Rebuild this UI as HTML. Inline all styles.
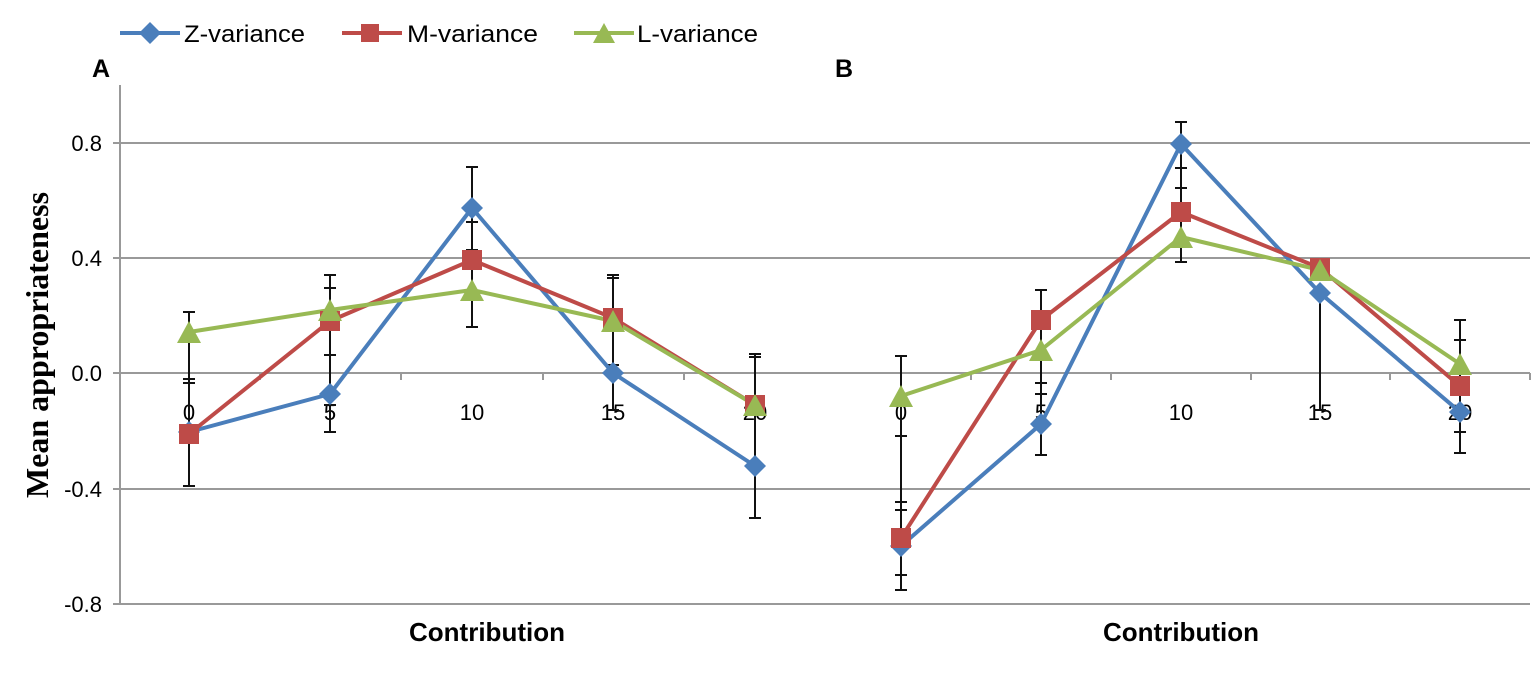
<!DOCTYPE html>
<html><head><meta charset="utf-8"><style>html,body{margin:0;padding:0;background:#fff}svg{display:block}</style></head>
<body>
<svg width="1535" height="679" viewBox="0 0 1535 679" xmlns="http://www.w3.org/2000/svg" font-family="Liberation Sans, sans-serif">
<!-- Legend -->
<g stroke-width="4">
<line x1="120" y1="33" x2="180" y2="33" stroke="#4a7ebb"/>
<polygon points="150,22 161,33 150,44 139,33" fill="#4a7ebb"/>
<line x1="342" y1="33" x2="402" y2="33" stroke="#be4b48"/>
<rect x="361" y="24" width="18" height="18" fill="#be4b48"/>
<line x1="574" y1="33" x2="634" y2="33" stroke="#98b954"/>
<polygon points="604,23 615,43 593,43" fill="#98b954"/>
</g>
<g font-size="24" fill="#000">
<text x="184" y="42" textLength="121" lengthAdjust="spacingAndGlyphs">Z-variance</text>
<text x="407" y="42" textLength="131" lengthAdjust="spacingAndGlyphs">M-variance</text>
<text x="637" y="42" textLength="121" lengthAdjust="spacingAndGlyphs">L-variance</text>
</g>
<text x="92" y="77" font-size="25" font-weight="bold">A</text>
<text x="835" y="77" font-size="25" font-weight="bold">B</text>
<text transform="translate(48,345) rotate(-90)" text-anchor="middle" font-family="Liberation Serif, serif" font-weight="bold" font-size="32">Mean appropriateness</text>
<!-- Panel A grid -->
<g stroke="#999" stroke-width="2">
<line x1="113" y1="143" x2="822" y2="143"/>
<line x1="113" y1="258" x2="822" y2="258"/>
<line x1="113" y1="373" x2="822" y2="373"/>
<line x1="113" y1="489" x2="822" y2="489"/>
<line x1="113" y1="604" x2="822" y2="604"/>
<line x1="120" y1="85" x2="120" y2="605"/>
<line x1="260" y1="373" x2="260" y2="380"/><line x1="401" y1="373" x2="401" y2="380"/><line x1="543" y1="373" x2="543" y2="380"/><line x1="684" y1="373" x2="684" y2="380"/>
</g>
<g font-size="22" text-anchor="end">
<text x="102" y="151">0.8</text><text x="102" y="266">0.4</text><text x="102" y="381">0.0</text><text x="102" y="497">-0.4</text><text x="102" y="612">-0.8</text>
</g>
<!-- Panel B grid -->
<g stroke="#999" stroke-width="2">
<line x1="780" y1="143" x2="808" y2="143"/><line x1="817" y1="143" x2="1530" y2="143"/>
<line x1="780" y1="258" x2="808" y2="258"/><line x1="817" y1="258" x2="1530" y2="258"/>
<line x1="780" y1="373" x2="808" y2="373"/><line x1="817" y1="373" x2="1530" y2="373"/>
<line x1="780" y1="489" x2="808" y2="489"/><line x1="817" y1="489" x2="1530" y2="489"/>
<line x1="780" y1="604" x2="808" y2="604"/><line x1="817" y1="604" x2="1530" y2="604"/>
<line x1="971" y1="373" x2="971" y2="380"/><line x1="1111" y1="373" x2="1111" y2="380"/><line x1="1251" y1="373" x2="1251" y2="380"/><line x1="1390" y1="373" x2="1390" y2="380"/><line x1="1530" y1="373" x2="1530" y2="380"/>
</g>
<g font-size="22" text-anchor="middle">
<text x="189" y="420">0</text><text x="330" y="420">5</text><text x="472" y="420">10</text><text x="613" y="420">15</text><text x="755" y="420">20</text>
<text x="901" y="420">0</text><text x="1041" y="420">5</text><text x="1181" y="420">10</text><text x="1320" y="420">15</text><text x="1460" y="420">20</text>
</g>
<g font-size="26" font-weight="bold" text-anchor="middle">
<text x="487" y="641">Contribution</text><text x="1181" y="641">Contribution</text>
</g>
<!-- Error bars -->
<g stroke="#111" stroke-width="2">
<line x1="189" y1="312" x2="189" y2="486"/><line x1="183" y1="312" x2="195" y2="312"/><line x1="183" y1="379" x2="195" y2="379"/><line x1="183" y1="383" x2="195" y2="383"/><line x1="183" y1="486" x2="195" y2="486"/>
<line x1="330" y1="275" x2="330" y2="432"/><line x1="324" y1="275" x2="336" y2="275"/><line x1="324" y1="288" x2="336" y2="288"/><line x1="324" y1="355" x2="336" y2="355"/><line x1="324" y1="405" x2="336" y2="405"/><line x1="324" y1="432" x2="336" y2="432"/>
<line x1="472" y1="167" x2="472" y2="327"/><line x1="466" y1="167" x2="478" y2="167"/><line x1="466" y1="222" x2="478" y2="222"/><line x1="466" y1="250" x2="478" y2="250"/><line x1="466" y1="327" x2="478" y2="327"/>
<line x1="613" y1="275" x2="613" y2="410"/><line x1="607" y1="275" x2="619" y2="275"/><line x1="607" y1="278" x2="619" y2="278"/><line x1="607" y1="365" x2="619" y2="365"/><line x1="607" y1="410" x2="619" y2="410"/>
<line x1="755" y1="354" x2="755" y2="518"/><line x1="749" y1="354" x2="761" y2="354"/><line x1="749" y1="357" x2="761" y2="357"/><line x1="749" y1="518" x2="761" y2="518"/>
<line x1="901" y1="356" x2="901" y2="590"/><line x1="895" y1="356" x2="907" y2="356"/><line x1="895" y1="436" x2="907" y2="436"/><line x1="895" y1="502" x2="907" y2="502"/><line x1="895" y1="510" x2="907" y2="510"/><line x1="895" y1="575" x2="907" y2="575"/><line x1="895" y1="590" x2="907" y2="590"/>
<line x1="1041" y1="290" x2="1041" y2="455"/><line x1="1035" y1="290" x2="1047" y2="290"/><line x1="1035" y1="383" x2="1047" y2="383"/><line x1="1035" y1="394" x2="1047" y2="394"/><line x1="1035" y1="455" x2="1047" y2="455"/>
<line x1="1181" y1="122" x2="1181" y2="262"/><line x1="1175" y1="122" x2="1187" y2="122"/><line x1="1175" y1="168" x2="1187" y2="168"/><line x1="1175" y1="188" x2="1187" y2="188"/><line x1="1175" y1="262" x2="1187" y2="262"/>
<line x1="1320" y1="295" x2="1320" y2="410"/><line x1="1314" y1="295" x2="1326" y2="295"/><line x1="1314" y1="410" x2="1326" y2="410"/>
<line x1="1460" y1="320" x2="1460" y2="453"/><line x1="1454" y1="320" x2="1466" y2="320"/><line x1="1454" y1="340" x2="1466" y2="340"/><line x1="1454" y1="432" x2="1466" y2="432"/><line x1="1454" y1="453" x2="1466" y2="453"/>
</g>
<g fill="none" stroke-width="4" stroke-linejoin="round">
<polyline points="189,432 330,394 472,208 613,373 755,466" stroke="#4a7ebb"/>
<polyline points="189,434 330,321 472,260 613,318 755,405" stroke="#be4b48"/>
<polyline points="189,332 330,310 472,290 613,321 755,405" stroke="#98b954"/>
<polyline points="901,546 1041,424 1181,144 1320,293 1460,412" stroke="#4a7ebb"/>
<polyline points="901,538 1041,320 1181,212 1320,268 1460,386" stroke="#be4b48"/>
<polyline points="901,396 1041,350 1181,237 1320,270 1460,364" stroke="#98b954"/>
</g>
<g fill="#4a7ebb">
<polygon points="189,421 200,432 189,443 178,432"/><polygon points="330,383 341,394 330,405 319,394"/><polygon points="472,197 483,208 472,219 461,208"/><polygon points="613,362 624,373 613,384 602,373"/><polygon points="755,455 766,466 755,477 744,466"/>
<polygon points="901,535 912,546 901,557 890,546"/><polygon points="1041,413 1052,424 1041,435 1030,424"/><polygon points="1181,133 1192,144 1181,155 1170,144"/><polygon points="1320,282 1331,293 1320,304 1309,293"/><polygon points="1460,401 1471,412 1460,423 1449,412"/>
</g>
<g fill="#be4b48">
<rect x="179" y="424" width="20" height="20"/><rect x="320" y="311" width="20" height="20"/><rect x="462" y="250" width="20" height="20"/><rect x="603" y="308" width="20" height="20"/><rect x="745" y="395" width="20" height="20"/>
<rect x="891" y="528" width="20" height="20"/><rect x="1031" y="310" width="20" height="20"/><rect x="1171" y="202" width="20" height="20"/><rect x="1310" y="258" width="20" height="20"/><rect x="1450" y="376" width="20" height="20"/>
</g>
<g fill="#98b954">
<polygon points="189,321 201,343 177,343"/><polygon points="330,299 342,321 318,321"/><polygon points="472,279 484,301 460,301"/><polygon points="613,310 625,332 601,332"/><polygon points="755,394 767,416 743,416"/>
<polygon points="901,385 913,407 889,407"/><polygon points="1041,339 1053,361 1029,361"/><polygon points="1181,226 1193,248 1169,248"/><polygon points="1320,259 1332,281 1308,281"/><polygon points="1460,353 1472,375 1448,375"/>
</g>
</svg>
</body></html>
